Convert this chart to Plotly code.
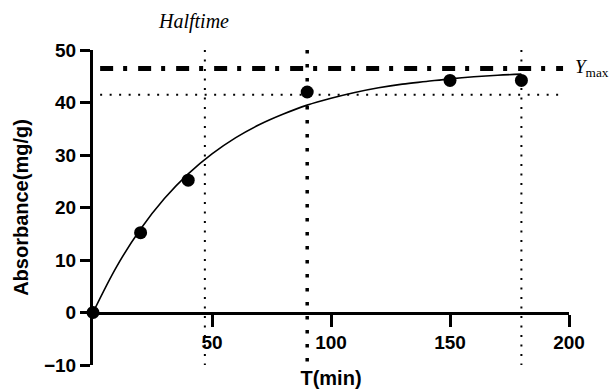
import plotly.graph_objects as go

# measured data points
time_min = [0, 20, 40, 90, 150, 180]
absorbance = [0, 15.2, 25.2, 42.0, 44.2, 44.2]

# fitted curve
curve_x = [0, 10, 20, 30, 40, 50, 60, 70, 80, 90, 100, 110, 120, 130, 140, 150, 160, 170, 180]
curve_y = [0, 8.8, 15.9, 21.7, 26.4, 30.2, 33.3, 35.8, 37.8, 39.5, 40.8, 41.9, 42.8, 43.5, 44.0, 44.5, 44.9, 45.2, 45.4]

# reference lines
ymax_level = 46.5
plateau_level = 41.5
halftime_x = 47
mark_x_bold = 90
mark_x_end = 180
hline_span = [3, 197.5]

x_ticks = [50, 100, 150, 200]
y_ticks = [-10, 0, 10, 20, 30, 40, 50]
x_range = [0, 200]
y_range = [-10, 50]

fig = go.Figure()

fig.add_trace(go.Scatter(x=hline_span, y=[ymax_level, ymax_level], mode="lines",
                         line=dict(color="black", width=5, dash="13px,10px,4px,11px"),
                         hoverinfo="skip", showlegend=False))
fig.add_trace(go.Scatter(x=hline_span, y=[plateau_level, plateau_level], mode="lines",
                         line=dict(color="black", width=2, dash="2px,7.5px"),
                         hoverinfo="skip", showlegend=False))
for xv, w, d in [(halftime_x, 2, "2px,7.5px"), (mark_x_bold, 3.5, "3.5px,10.5px"), (mark_x_end, 2, "2px,7.5px")]:
    fig.add_trace(go.Scatter(x=[xv, xv], y=y_range[::-1], mode="lines",
                             line=dict(color="black", width=w, dash=d),
                             hoverinfo="skip", showlegend=False, cliponaxis=False))

fig.add_trace(go.Scatter(x=curve_x, y=curve_y, mode="lines", line=dict(color="black", width=1.6, shape="spline"),
                         showlegend=False))
fig.add_trace(go.Scatter(x=time_min, y=absorbance, mode="markers",
                         marker=dict(color="black", size=13), cliponaxis=False, showlegend=False))

tickfont = dict(family="Liberation Sans", size=19, color="black", weight="bold")
titlefont = dict(family="Liberation Sans", size=20, color="black", weight="bold")

fig.update_layout(
    width=613, height=389,
    margin=dict(l=93, r=44, t=50, b=24, autoexpand=False),
    plot_bgcolor="white", paper_bgcolor="white",
    xaxis=dict(range=x_range, tickvals=x_ticks, ticks="outside", ticklen=12, tickwidth=3,
               tickcolor="black", showline=True, linecolor="black", linewidth=3,
               showgrid=False, zeroline=False, anchor="free", position=1/6,
               tickfont=tickfont, automargin=False,
               title=dict(text="T(min)", font=titlefont, standoff=20)),
    yaxis=dict(range=y_range, tickvals=y_ticks, ticks="outside", ticklen=10, tickwidth=3,
               tickcolor="black", showline=True, linecolor="black", linewidth=3,
               showgrid=False, zeroline=False, tickfont=tickfont, automargin=False,
               title=dict(text="Absorbance(mg/g)", font=titlefont, standoff=10)),
    annotations=[
        dict(text="<i>Halftime</i>", x=42.3, xref="x", y=1.089, yref="paper", showarrow=False,
             xanchor="center", yanchor="middle", font=dict(family="Liberation Serif", size=20, color="black")),
        dict(text="<i>Y</i><sub>max</sub>", x=1.008, xref="paper", y=ymax_level, yref="y", showarrow=False,
             xanchor="left", yanchor="middle", font=dict(family="Liberation Serif", size=19, color="black")),
    ],
)

fig.write_html("out.html", config={"displayModeBar": False},
               post_script="document.body.style.margin='0';")
